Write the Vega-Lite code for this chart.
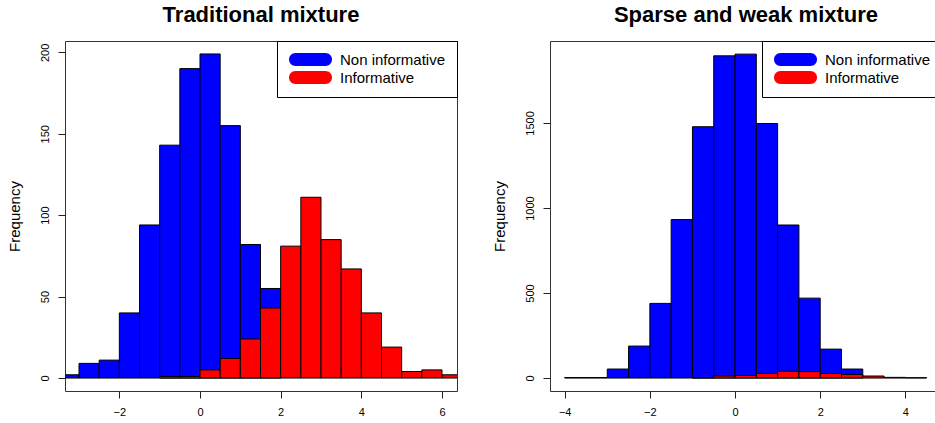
{
  "$schema": "https://vega.github.io/schema/vega-lite/v6.json",
  "background": "white",
  "padding": {"left": 6, "top": 3, "right": 0, "bottom": 0},
  "spacing": 33,
  "config": {
    "font": "Liberation Sans",
    "view": {"stroke": "#333333", "strokeWidth": 1},
    "axis": {"domain": false, "grid": false, "tickColor": "#222222", "tickSize": 7, "labelFontSize": 11, "labelColor": "#000000", "titleFontSize": 15, "titleFontWeight": "normal", "titleColor": "#000000", "labelFont": "Liberation Sans", "titleFont": "Liberation Sans"},
    "title": {"fontSize": 22, "fontWeight": "bold", "color": "#000000", "anchor": "middle", "baseline": "top", "offset": 14, "font": "Liberation Sans"},
    "legend": {"title": null, "orient": "top-right", "offset": 0, "padding": 11, "strokeColor": "#000000", "fillColor": "#ffffff", "symbolType": "M-2.308,-1L2.308,-1A1,1 0 0 1 2.308,1L-2.308,1A1,1 0 0 1 -2.308,-1Z", "symbolSize": 169, "symbolOffset": 15, "symbolStrokeWidth": 0, "symbolOpacity": 1, "labelFontSize": 15, "labelOffset": 22, "rowPadding": 2, "labelColor": "#000000", "labelFont": "Liberation Sans"}
  },
  "resolve": {"scale": {"color": "independent"}},
  "hconcat": [
    {
      "title": "Traditional mixture",
      "width": 392,
      "height": 350,
      "data": {"values": [
        {"group": "Non informative", "x0": -3.5, "x1": -3.0, "count": 2},
        {"group": "Non informative", "x0": -3.0, "x1": -2.5, "count": 9},
        {"group": "Non informative", "x0": -2.5, "x1": -2.0, "count": 11},
        {"group": "Non informative", "x0": -2.0, "x1": -1.5, "count": 40},
        {"group": "Non informative", "x0": -1.5, "x1": -1.0, "count": 94},
        {"group": "Non informative", "x0": -1.0, "x1": -0.5, "count": 143},
        {"group": "Non informative", "x0": -0.5, "x1": 0.0, "count": 190},
        {"group": "Non informative", "x0": 0.0, "x1": 0.5, "count": 199},
        {"group": "Non informative", "x0": 0.5, "x1": 1.0, "count": 155},
        {"group": "Non informative", "x0": 1.0, "x1": 1.5, "count": 82},
        {"group": "Non informative", "x0": 1.5, "x1": 2.0, "count": 55},
        {"group": "Informative", "x0": -1.0, "x1": -0.5, "count": 1},
        {"group": "Informative", "x0": -0.5, "x1": 0.0, "count": 1},
        {"group": "Informative", "x0": 0.0, "x1": 0.5, "count": 5},
        {"group": "Informative", "x0": 0.5, "x1": 1.0, "count": 12},
        {"group": "Informative", "x0": 1.0, "x1": 1.5, "count": 24},
        {"group": "Informative", "x0": 1.5, "x1": 2.0, "count": 43},
        {"group": "Informative", "x0": 2.0, "x1": 2.5, "count": 81},
        {"group": "Informative", "x0": 2.5, "x1": 3.0, "count": 111},
        {"group": "Informative", "x0": 3.0, "x1": 3.5, "count": 85},
        {"group": "Informative", "x0": 3.5, "x1": 4.0, "count": 67},
        {"group": "Informative", "x0": 4.0, "x1": 4.5, "count": 40},
        {"group": "Informative", "x0": 4.5, "x1": 5.0, "count": 19},
        {"group": "Informative", "x0": 5.0, "x1": 5.5, "count": 4},
        {"group": "Informative", "x0": 5.5, "x1": 6.0, "count": 5},
        {"group": "Informative", "x0": 6.0, "x1": 6.5, "count": 2}
      ]},
      "mark": {"type": "bar", "stroke": "#000000", "strokeWidth": 1, "clip": true},
      "encoding": {
        "x": {"field": "x0", "type": "quantitative", "scale": {"domain": [-3.347, 6.372], "nice": false, "zero": false}, "axis": {"values": [-2, 0, 2, 4, 6], "title": null, "labelPadding": 8, "labelFlush": false}},
        "x2": {"field": "x1"},
        "y": {"field": "count", "type": "quantitative", "stack": null, "scale": {"domain": [-7.96, 206.96], "nice": false, "zero": false}, "axis": {"values": [0, 50, 100, 150, 200], "format": "d", "title": "Frequency", "labelAngle": -90, "labelAlign": "center", "labelBaseline": "alphabetic", "labelPadding": 10, "titlePadding": 17}},
        "y2": {"datum": 0},
        "color": {"field": "group", "type": "nominal", "scale": {"domain": ["Non informative", "Informative"], "range": ["#0000ff", "#ff0000"]}}
      }
    },
    {
      "title": "Sparse and weak mixture",
      "width": 392,
      "height": 350,
      "data": {"values": [
        {"group": "Non informative", "x0": -4.0, "x1": -3.5, "count": 3},
        {"group": "Non informative", "x0": -3.5, "x1": -3.0, "count": 3},
        {"group": "Non informative", "x0": -3.0, "x1": -2.5, "count": 53},
        {"group": "Non informative", "x0": -2.5, "x1": -2.0, "count": 188},
        {"group": "Non informative", "x0": -2.0, "x1": -1.5, "count": 439},
        {"group": "Non informative", "x0": -1.5, "x1": -1.0, "count": 932},
        {"group": "Non informative", "x0": -1.0, "x1": -0.5, "count": 1478},
        {"group": "Non informative", "x0": -0.5, "x1": 0.0, "count": 1895},
        {"group": "Non informative", "x0": 0.0, "x1": 0.5, "count": 1905},
        {"group": "Non informative", "x0": 0.5, "x1": 1.0, "count": 1497},
        {"group": "Non informative", "x0": 1.0, "x1": 1.5, "count": 900},
        {"group": "Non informative", "x0": 1.5, "x1": 2.0, "count": 470},
        {"group": "Non informative", "x0": 2.0, "x1": 2.5, "count": 170},
        {"group": "Non informative", "x0": 2.5, "x1": 3.0, "count": 53},
        {"group": "Informative", "x0": -1.0, "x1": -0.5, "count": 2},
        {"group": "Informative", "x0": -0.5, "x1": 0.0, "count": 12},
        {"group": "Informative", "x0": 0.0, "x1": 0.5, "count": 15},
        {"group": "Informative", "x0": 0.5, "x1": 1.0, "count": 27},
        {"group": "Informative", "x0": 1.0, "x1": 1.5, "count": 40},
        {"group": "Informative", "x0": 1.5, "x1": 2.0, "count": 38},
        {"group": "Informative", "x0": 2.0, "x1": 2.5, "count": 27},
        {"group": "Informative", "x0": 2.5, "x1": 3.0, "count": 21},
        {"group": "Informative", "x0": 3.0, "x1": 3.5, "count": 12},
        {"group": "Informative", "x0": 3.5, "x1": 4.0, "count": 4},
        {"group": "Informative", "x0": 4.0, "x1": 4.5, "count": 2}
      ]},
      "mark": {"type": "bar", "stroke": "#000000", "strokeWidth": 1, "clip": true},
      "encoding": {
        "x": {"field": "x0", "type": "quantitative", "scale": {"domain": [-4.345, 4.86], "nice": false, "zero": false}, "axis": {"values": [-4, -2, 0, 2, 4], "title": null, "labelPadding": 8, "labelFlush": false}},
        "x2": {"field": "x1"},
        "y": {"field": "count", "type": "quantitative", "stack": null, "scale": {"domain": [-76.2, 1982.2], "nice": false, "zero": false}, "axis": {"values": [0, 500, 1000, 1500], "format": "d", "title": "Frequency", "labelAngle": -90, "labelAlign": "center", "labelBaseline": "alphabetic", "labelPadding": 10, "titlePadding": 17}},
        "y2": {"datum": 0},
        "color": {"field": "group", "type": "nominal", "scale": {"domain": ["Non informative", "Informative"], "range": ["#0000ff", "#ff0000"]}}
      }
    }
  ]
}
